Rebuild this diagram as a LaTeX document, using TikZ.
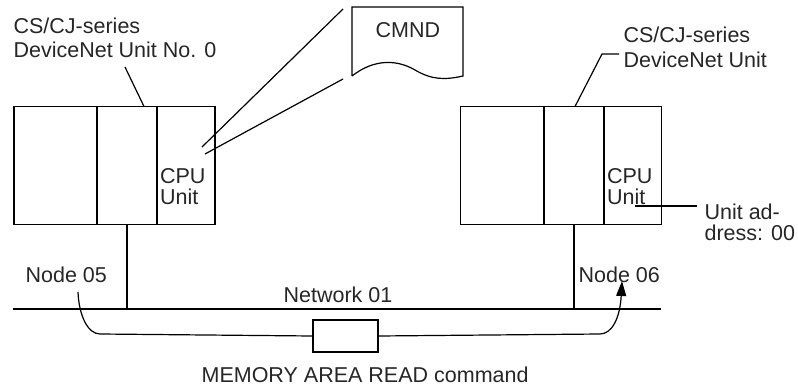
\documentclass[tikz,border=0pt]{standalone}
\usepackage{fontspec}
\setmainfont{Liberation Sans}
\usetikzlibrary{arrows.meta}
\begin{document}
\begin{tikzpicture}[x=1pt,y=-1pt,
  line width=1.2pt,
  lbl/.style={anchor=base west,inner sep=0pt,font=\fontsize{21.5}{24}\selectfont,text=black!85},
  unitbox/.style={draw,rectangle,inner sep=0pt,minimum width=201pt,minimum height=118pt},
  cmdbox/.style={draw,rectangle,inner sep=0pt,minimum width=65pt,minimum height=32pt}]
\useasboundingbox (0,0) rectangle (798,388);
% left PLC
\node[unitbox] (plcL) at (114.5,165.5) {};
\draw (97,106.5) -- (97,224.5);
\draw (157,106.5) -- (157,224.5);
% right PLC
\node[unitbox] (plcR) at (561,165.5) {};
\draw (544,106.5) -- (544,224.5);
\draw (604,106.5) -- (604,224.5);
% labels top
\node[lbl] (tl1) at (13,33) {CS/CJ-series};
\node[lbl] (tl2) at (13,57) {DeviceNet Unit No. 0};
\node[lbl] (tr1) at (623,42) {CS/CJ-series};
\node[lbl] (tr2) at (623,67) {DeviceNet Unit};
\coordinate (ltop) at (144,106.5);
\coordinate (lldr) at (125,67);
\draw (ltop) -- (lldr);
\coordinate (rtop) at (575,106.5);
\coordinate (rk) at (602,54);
\coordinate (rend) at (619,54);
\draw (rtop) -- (rk) -- (rend);
% CPU labels
\node[lbl] (cpuL1) at (159.5,183) {CPU};
\node[lbl] (cpuL2) at (159.5,204) {Unit};
\node[lbl] (cpuR1) at (606.5,183) {CPU};
\node[lbl] (cpuR2) at (606.5,204) {Unit};
% CMND sheet
\coordinate (c1) at (352,7);
\coordinate (c2) at (463,7);
\coordinate (c3) at (463,76);
\coordinate (c4) at (352,76);
\draw (c4) -- (c1) -- (c2) -- (c3)
  .. controls (445,80) and (432,80) .. (415,70)
  .. controls (398,60) and (375,58) .. (c4);
\node[lbl] (cmnd) at (375,37) {CMND};
\coordinate (s1) at (343,9);
\coordinate (e1) at (202,147);
\coordinate (s2) at (343,79);
\coordinate (e2) at (205,154);
\draw (s1) -- (e1);
\draw (s2) -- (e2);
% unit address
\coordinate (ua) at (635,206);
\coordinate (ub) at (697,206);
\draw (ua) -- (ub);
\node[lbl] (ua1) at (704,219) {Unit ad-};
\node[lbl] (ua2) at (704,240) {dress: 00};
% network
\coordinate (busL) at (13,309);
\coordinate (busR) at (661,309);
\draw (busL) -- (busR);
\coordinate (dL) at (127,309);
\coordinate (dR) at (574,309);
\draw (plcL.south -| dL) -- (dL);
\draw (plcR.south -| dR) -- (dR);
\node[lbl] (n05) at (25,282) {Node 05};
\node[lbl] (n06) at (578,282) {Node 06};
\node[lbl] (net) at (283,302) {Network 01};
% command path
\node[cmdbox] (cmd) at (345.5,336) {};
\coordinate (pstart) at (78,292);
\coordinate (pend) at (622,281);
\draw (pstart) .. controls (79,316) and (88,334) .. (100,334) -- (cmd.west);
\draw[-{Triangle[length=15pt,width=10pt]}] (cmd.east) -- (600,334)
  .. controls (612,334) and (620,318) .. (pend);
\node[lbl] (mem) at (201,382) {MEMORY AREA READ command};
\end{tikzpicture}
\end{document}
